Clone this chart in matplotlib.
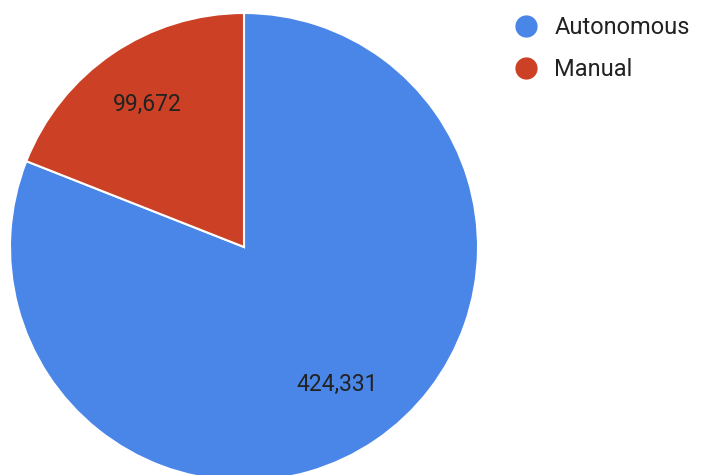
import numpy as np
import matplotlib.pyplot as plt
from matplotlib.lines import Line2D

plt.rcParams['font.family'] = ['Roboto', 'DejaVu Sans']

labels = ['Autonomous', 'Manual']
values = [424331, 99672]
colors = ['#4a86e8', '#cc4125']

fig = plt.figure(figsize=(7.01, 4.75), dpi=100)
ax = fig.add_axes([0, 0, 1, 1])

cx, cy, r = 244, 228, 234
wedges, texts, autotexts = ax.pie(
    values, colors=colors, startangle=90, counterclock=False,
    center=(cx, cy), radius=r, frame=True,
    wedgeprops=dict(edgecolor='white', linewidth=1.5),
    autopct=lambda p: f'{p * sum(values) / 100:,.0f}', pctdistance=0.72,
    textprops=dict(fontsize=16.5, color='#222222'))
ax.set_xlim(0, 701)
ax.set_ylim(0, 475)
ax.set_aspect('equal')
ax.axis('off')

# nudge labels to where the original puts them
autotexts[0].set_position((337, 475 - 384))
autotexts[1].set_position((147, 475 - 104))

handles = [Line2D([], [], marker='o', linestyle='none', markersize=15,
                  markerfacecolor=c, markeredgecolor=c) for c in colors]
leg = ax.legend(handles, labels, loc='upper left', bbox_to_anchor=(0.70, 1.01),
                frameon=False, fontsize=17, handletextpad=0.6, labelspacing=0.8,
                handlelength=1.2)
for t in leg.get_texts():
    t.set_color('#222222')

fig.savefig('out.png', dpi=100)
